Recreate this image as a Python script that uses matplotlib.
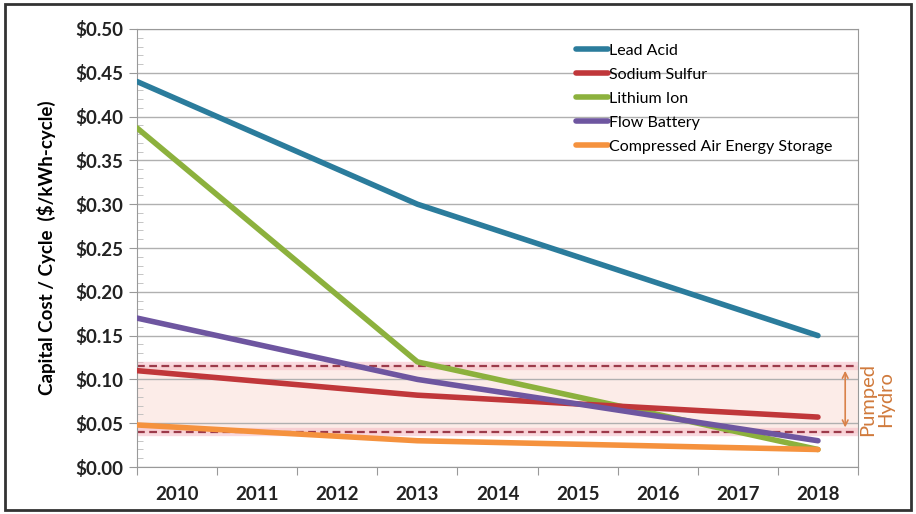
import numpy as np
import matplotlib.pyplot as plt
from matplotlib.patches import Rectangle

# data (start of axis, 2013, 2018)
years = [2009.5, 2013, 2018]
lead_acid = [0.44, 0.30, 0.15]
sodium_sulfur = [0.11, 0.082, 0.057]
lithium_ion = [0.387, 0.12, 0.02]
flow_battery = [0.17, 0.10, 0.03]
caes = [0.048, 0.030, 0.020]

hydro_low = 0.04
hydro_high = 0.115

year_labels = [str(y) for y in range(2010, 2019)]

plt.rcParams['font.family'] = ['Lato', 'DejaVu Sans']

fig = plt.figure(figsize=(9.16, 5.14), dpi=100)
ax = fig.add_axes([0.1496, 0.0914, 0.7871, 0.8522])

# pumped hydro band
ax.axhspan(hydro_low, hydro_high, color='#fcece8', zorder=0)
for h in [hydro_low, hydro_high]:
    ax.axhline(h, color='#f5b5c0', lw=6, alpha=0.5, zorder=1)
    ax.axhline(h, color='#9c3a4a', lw=1.6, ls=(0, (3.5, 2)), zorder=2)

lw = 4
ax.plot(years, lead_acid, color='#2b7c9c', lw=lw, label='Lead Acid', zorder=5, solid_capstyle='round')
ax.plot(years, sodium_sulfur, color='#c0373a', lw=lw, label='Sodium Sulfur', zorder=5, solid_capstyle='round')
ax.plot(years, lithium_ion, color='#8cb13d', lw=lw, label='Lithium Ion', zorder=4, solid_capstyle='round')
ax.plot(years, flow_battery, color='#6e56a0', lw=lw, label='Flow Battery', zorder=5, solid_capstyle='round')
ax.plot(years, caes, color='#f5923e', lw=lw, label='Compressed Air Energy Storage', zorder=4, solid_capstyle='round')

ax.annotate('', xy=(2018.34, hydro_low + 0.002), xytext=(2018.34, hydro_high - 0.002),
            arrowprops=dict(arrowstyle='<->', color='#d9824a', lw=1.2))
fig.text(0.957, 0.5 * (hydro_low + hydro_high) / 0.5 * 0.8522 + 0.0914, 'Pumped\nHydro',
         rotation=90, ha='center', va='center', color='#d07a3c', fontsize=14.5, linespacing=1.1)

ax.set_xlim(2009.5, 2018.5)
ax.set_ylim(0, 0.5)
ax.set_yticks(np.arange(0, 0.51, 0.05))
ax.set_yticklabels(['$%.2f' % v for v in np.arange(0, 0.51, 0.05)])
ax.set_yticks(np.arange(0, 0.501, 0.01), minor=True)
ax.set_xticks(np.arange(2009.5, 2018.6, 1))
ax.set_xticklabels([])
ax.set_xticks(np.arange(2010, 2019, 1), minor=True)
ax.set_xticklabels(year_labels, minor=True)

ax.tick_params(axis='y', which='major', length=6, direction='out', color='#999999',
               labelsize=13.5, pad=4)
ax.tick_params(axis='y', which='minor', length=4, direction='in', color='#bbbbbb')
ax.tick_params(axis='x', which='major', length=6, direction='out', color='#999999')
ax.tick_params(axis='x', which='minor', length=0, labelsize=13.5, pad=14)
for t in ax.get_yticklabels() + ax.get_xticklabels(minor=True):
    t.set_fontweight('bold')
    t.set_color('#222222')

ax.grid(axis='y', which='major', color='#b0b0b0', lw=1)
ax.set_axisbelow(True)
for s in ax.spines.values():
    s.set_color('#999999')

ax.set_ylabel('Capital Cost / Cycle  ($/kWh-cycle)', fontsize=13.5, fontweight='bold', labelpad=14)

leg = ax.legend(loc='upper right', bbox_to_anchor=(0.985, 1.0), frameon=False, fontsize=11.5,
                handlelength=2.0, handletextpad=0.1, labelspacing=0.62)

fig.add_artist(Rectangle((0.006, 0.008), 0.988, 0.984, transform=fig.transFigure,
                         fill=False, ec='#333333', lw=2))

plt.savefig('out.png')
